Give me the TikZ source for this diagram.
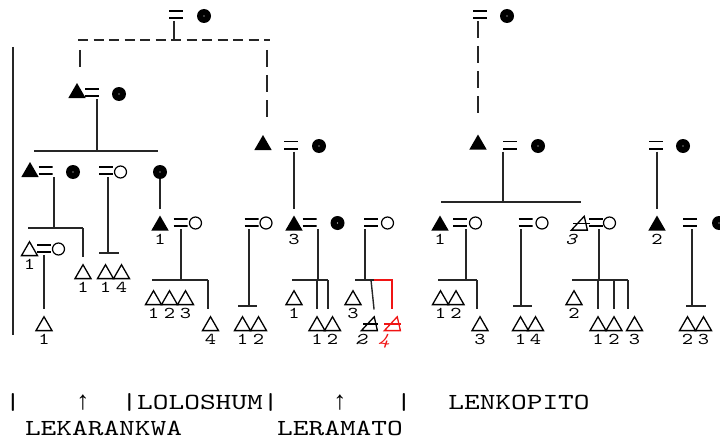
\documentclass[tikz,border=0pt]{standalone}
\usepackage{fontspec}
\setmainfont{Liberation Mono}
\newfontfamily\cour[FakeStretch=1.3, ItalicFont=lmmono10-italic.otf, ItalicFeatures={FakeStretch=1.3}]{lmmono10-regular.otf}
\usetikzlibrary{shapes.geometric}

\definecolor{cutred}{RGB}{240,20,20}

\tikzset{
  kin/.style = {line width=1.4pt, draw=black!85},
  drop/.style = {kin, shorten >=6pt},
  hdash/.style = {kin, dash pattern=on 10pt off 5.5pt},
  vdash/.style = {kin, dash pattern=on 17pt off 8pt, shorten >=18pt},
  male/.style = {regular polygon, regular polygon sides=3, fill=black, inner sep=0, minimum size=20pt},
  boy/.style = {regular polygon, regular polygon sides=3, draw, line width=1.3pt, inner sep=0, minimum size=18.5pt},
  gone/.style = {boy, xslant=0.35},
  wife/.style = {circle, fill=black, inner sep=0, minimum size=14pt,
    path picture={\fill[white] (path picture bounding box.center) circle (0.7pt);}},
  girl/.style = {circle, draw, line width=1.2pt, inner sep=0, minimum size=12pt},
  eq/.style = {rectangle, inner sep=0, minimum width=14pt, minimum height=9pt, outer sep=2pt,
    path picture={\draw[line width=1.6pt]
      ([yshift=-0.8pt]path picture bounding box.north west) -- ([yshift=-0.8pt]path picture bounding box.north east)
      ([yshift=0.8pt]path picture bounding box.south west) -- ([yshift=0.8pt]path picture bounding box.south east);}},
  num/.style = {font=\cour\fontsize{16.5}{16.5}\selectfont, inner sep=2pt},
  numi/.style = {num, font=\cour\fontsize{16.5}{16.5}\selectfont\itshape},
  txt/.style = {font=\cour\fontsize{23}{23}\selectfont, inner sep=0, anchor=base},
}

\begin{document}
\begin{tikzpicture}[x=1pt, y=-1pt, label distance=1pt]
	\useasboundingbox (0,0) rectangle (720,444);
	
	% top couples
	\node[eq] (e0) at (176,14.5) {};
	\node[wife] (f0) at (204,16) {};
	\node[eq] (e0r) at (480,14.5) {};
	\node[wife] (f0r) at (507,16) {};
	
	\node[male] (m1) at (77,93) {};
	\node[eq] (e1) at (92,92.5) {};
	\node[wife] (f1) at (119,94) {};
	\node[male] (m2) at (263,145) {};
	\node[eq] (e2) at (291,145) {};
	\node[wife] (f2) at (319,146) {};
	\node[male] (m3) at (478,144.5) {};
	\node[eq] (e3) at (510,145) {};
	\node[wife] (f3) at (538,146) {};
	\node[eq] (e4) at (656,145) {};
	\node[wife] (f4) at (683,146) {};
	
	\node[male] (m5) at (30,172) {};
	\node[eq] (e5) at (45.5,170.5) {};
	\node[wife] (f5) at (73,172) {};
	\node[eq] (e6) at (106,170.5) {};
	\node[girl] (o6) at (120.5,172) {};
	\node[wife] (f7) at (160,172) {};
	
	% row of the sons
	\node[male, label={[num]below:1}] (m12) at (160,225.5) {};
	\node[eq] (e12) at (180.5,222.5) {};
	\node[girl] (o12) at (195.5,223) {};
	\node[eq] (e13) at (251.5,222.5) {};
	\node[girl] (o13) at (266,223) {};
	\node[male, label={[num]below:3}] (m14) at (294,225.5) {};
	\node[eq] (e14) at (309.5,222.5) {};
	\node[wife] (f14) at (337.5,223) {};
	\node[eq] (e15) at (371,222.5) {};
	\node[girl] (o15) at (387.5,223) {};
	\node[male, label={[num]below:1}] (m16) at (440,225.5) {};
	\node[eq] (e16) at (460,222.5) {};
	\node[girl] (o16) at (475.5,223) {};
	\node[eq] (e17) at (525.5,222.5) {};
	\node[girl] (o17) at (542,223) {};
	\node[gone, label={[numi]below:3}] (x18) at (581,225.5) {};
	\node[eq] (e18) at (596,222.5) {};
	\node[girl] (o18) at (609.5,223) {};
	\node[male, label={[num]below:2}] (m19) at (657,225.5) {};
	\node[eq] (e19) at (690,222.5) {};
	\node[wife] (f19) at (719,223) {};
	
	\node[boy, label={[num]below:1}] (d8) at (29.5,251) {};
	\node[eq] (e8) at (44,248.5) {};
	\node[girl] (o8) at (58.5,249) {};
	\node[boy, label={[num]below:1}] (d9) at (83,274) {};
	\node[boy, label={[num]below:1}] (d10) at (105.5,274) {};
	\node[boy, label={[num]below:4}] (d11) at (121.5,274) {};
	
	% grandsons
	\node[boy, label={[num]below:1}] (g1) at (44,326) {};
	\node[boy, label={[num]below:1}] (g2) at (153.5,300) {};
	\node[boy, label={[num]below:2}] (g3) at (169.5,300) {};
	\node[boy, label={[num]below:3}] (g4) at (185.5,300) {};
	\node[boy, label={[num]below:4}] (g5) at (210.5,326) {};
	\node[boy, label={[num]below:1}] (g6) at (242.5,326) {};
	\node[boy, label={[num]below:2}] (g7) at (258.5,326) {};
	\node[boy, label={[num]below:1}] (g8) at (294,300) {};
	\node[boy, label={[num]below:1}] (g9) at (317,326) {};
	\node[boy, label={[num]below:2}] (g10) at (332.5,326) {};
	\node[boy, label={[num]below:3}] (g11) at (353,300) {};
	\node[gone, label={[numi]below:2}] (g12) at (371,326) {};
	\node[gone, draw=cutred, label={[numi, text=cutred]below:4}] (g13) at (394,326) {};
	\node[boy, label={[num]below:1}] (g14) at (440.5,300) {};
	\node[boy, label={[num]below:2}] (g15) at (456,300) {};
	\node[boy, label={[num]below:3}] (g16) at (480,326) {};
	\node[boy, label={[num]below:1}] (g17) at (520.5,326) {};
	\node[boy, label={[num]below:4}] (g18) at (535.5,326) {};
	\node[boy, label={[num]below:2}] (g19) at (574,300) {};
	\node[boy, label={[num]below:1}] (g20) at (598,326) {};
	\node[boy, label={[num]below:2}] (g21) at (614,326) {};
	\node[boy, label={[num]below:3}] (g22) at (634.5,326) {};
	\node[boy, label={[num]below:2}] (g23) at (687.5,326) {};
	\node[boy, label={[num]below:3}] (g24) at (703.5,326) {};
	
	% crossed out
	\draw[line width=1.4pt] ([xshift=-8pt,yshift=2pt]x18.center) -- ([xshift=9pt,yshift=2pt]x18.center);
	\draw[line width=1.4pt] ([xshift=-8pt,yshift=2pt]g12.center) -- ([xshift=7pt,yshift=2pt]g12.center);
	\draw[line width=1.4pt, cutred] ([xshift=-10pt,yshift=2pt]g13.center) -- ([xshift=7pt,yshift=2pt]g13.center);
	
	% bars
	\coordinate (b0l) at (78,40);
	\coordinate (b0r) at (270,40);
	\coordinate (t0) at (174,40);
	\coordinate (d1) at (80,50);
	\coordinate (d2) at (267,50);
	\coordinate (b1l) at (34,151);
	\coordinate (b1r) at (158,151);
	\coordinate (t1) at (97,151);
	\coordinate (b5l) at (28,228);
	\coordinate (b5r) at (83,228);
	\coordinate (t5) at (54,228);
	\coordinate (b6l) at (99,253);
	\coordinate (b6r) at (119,253);
	\coordinate (t6) at (108,253);
	\coordinate (b3l) at (441,202);
	\coordinate (b3r) at (581,202);
	\coordinate (t3) at (503,202);
	\coordinate (b12l) at (152,280);
	\coordinate (b12r) at (208,280);
	\coordinate (t12) at (181,280);
	\coordinate (b13l) at (238,306);
	\coordinate (b13r) at (257,306);
	\coordinate (t13) at (249,306);
	\coordinate (b14l) at (292,280);
	\coordinate (b14r) at (328,280);
	\coordinate (t14) at (318,280);
	\coordinate (b15l) at (355,280);
	\coordinate (b15r) at (374,280);
	\coordinate (t15) at (365,280);
	\coordinate (r15) at (392,280);
	\coordinate (b16l) at (438,280);
	\coordinate (b16r) at (477,280);
	\coordinate (t16) at (466,280);
	\coordinate (b17l) at (513,306);
	\coordinate (b17r) at (532,306);
	\coordinate (t17) at (521,306);
	\coordinate (b18l) at (572,280);
	\coordinate (b18r) at (628,280);
	\coordinate (t18) at (599,280);
	\coordinate (b19l) at (686,306);
	\coordinate (b19r) at (706,306);
	\coordinate (t19) at (692,306);
	
	\draw[kin] (t0 |- e0.south) -- (t0);
	\draw[hdash] (b0l) -- (b0r);
	\draw[vdash, shorten >=15pt] (d1) -- (d1 |- m1.north);
	\draw[vdash, shorten >=15pt] (d2) -- (d2 |- m2.north);
	\draw[vdash] (m3 |- e0r.south) -- (m3.north);
	
	\draw[kin] (t1 |- e1.south) -- (t1);
	\draw[kin] (b1l) -- (b1r);
	\draw[kin] (t5 |- e5.south) -- (t5);
	\draw[kin] (b5l) -- (b5r);
	\draw[drop] (b5r) -- (d9.north);
	\draw[kin] (t6 |- e6.south) -- (t6);
	\draw[kin] (b6l) -- (b6r);
	\draw[drop] (f7) -- (m12.north);
	\draw[drop] (e8) -- (g1.north);
	
	\draw[kin] (t12 |- e12.south) -- (t12);
	\draw[kin] (b12l) -- (b12r);
	\draw[drop] (b12r) -- (b12r |- g5.north);
	\draw[kin] (t13 |- e13.south) -- (t13);
	\draw[kin] (b13l) -- (b13r);
	\draw[drop] (m14 |- e2.south) -- (m14.north);
	\draw[kin] (t14 |- e14.south) -- (t14);
	\draw[kin] (b14l) -- (b14r);
	\draw[drop] (g9 |- b14l) -- (g9.north);
	\draw[drop] (b14r) -- (b14r |- g10.north);
	\draw[kin] (t15 |- e15.south) -- (t15);
	\draw[kin] (b15l) -- (b15r);
	\draw[drop] (g12 |- b15l) -- (g12.north);
	\draw[kin, cutred, shorten >=6pt] (b15r) -- (r15) -- (r15 |- g13.north);
	
	\draw[kin] (t3 |- e3.south) -- (t3);
	\draw[kin] (b3l) -- (b3r);
	\draw[drop] (m19 |- e4.south) -- (m19.north);
	\draw[kin] (t16 |- e16.south) -- (t16);
	\draw[kin] (b16l) -- (b16r);
	\draw[drop] (b16r) -- (b16r |- g16.north);
	\draw[kin] (t17 |- e17.south) -- (t17);
	\draw[kin] (b17l) -- (b17r);
	\draw[kin] (t18 |- e18.south) -- (t18);
	\draw[kin] (b18l) -- (b18r);
	\draw[drop] (g20 |- b18l) -- (g20.north);
	\draw[drop] (g21 |- b18l) -- (g21.north);
	\draw[drop] (b18r) -- (b18r |- g22.north);
	\draw[kin] (t19 |- e19.south) -- (t19);
	\draw[kin] (b19l) -- (b19r);
	
	% lineage marks
	\coordinate (s0) at (13,47);
	\coordinate (s1) at (13,335);
	\draw[kin, line width=1.8pt] (s0) -- (s1);
	
	\node[txt] (k1) at (13,409) {|};
	\node[txt, font=\fontsize{26}{26}\selectfont] (a1) at (83,409) {↑};
	\node[txt] (lol) at (200,409) {|LOLOSHUM|};
	\node[txt, font=\fontsize{26}{26}\selectfont] (a2) at (340,409) {↑};
	\node[txt] (k2) at (404,409) {|};
	\node[txt] (len) at (519,409) {LENKOPITO};
	\node[txt] (lek) at (103.5,435) {LEKARANKWA};
	\node[txt] (ler) at (340,435) {LERAMATO};
	
\end{tikzpicture}
\end{document}
